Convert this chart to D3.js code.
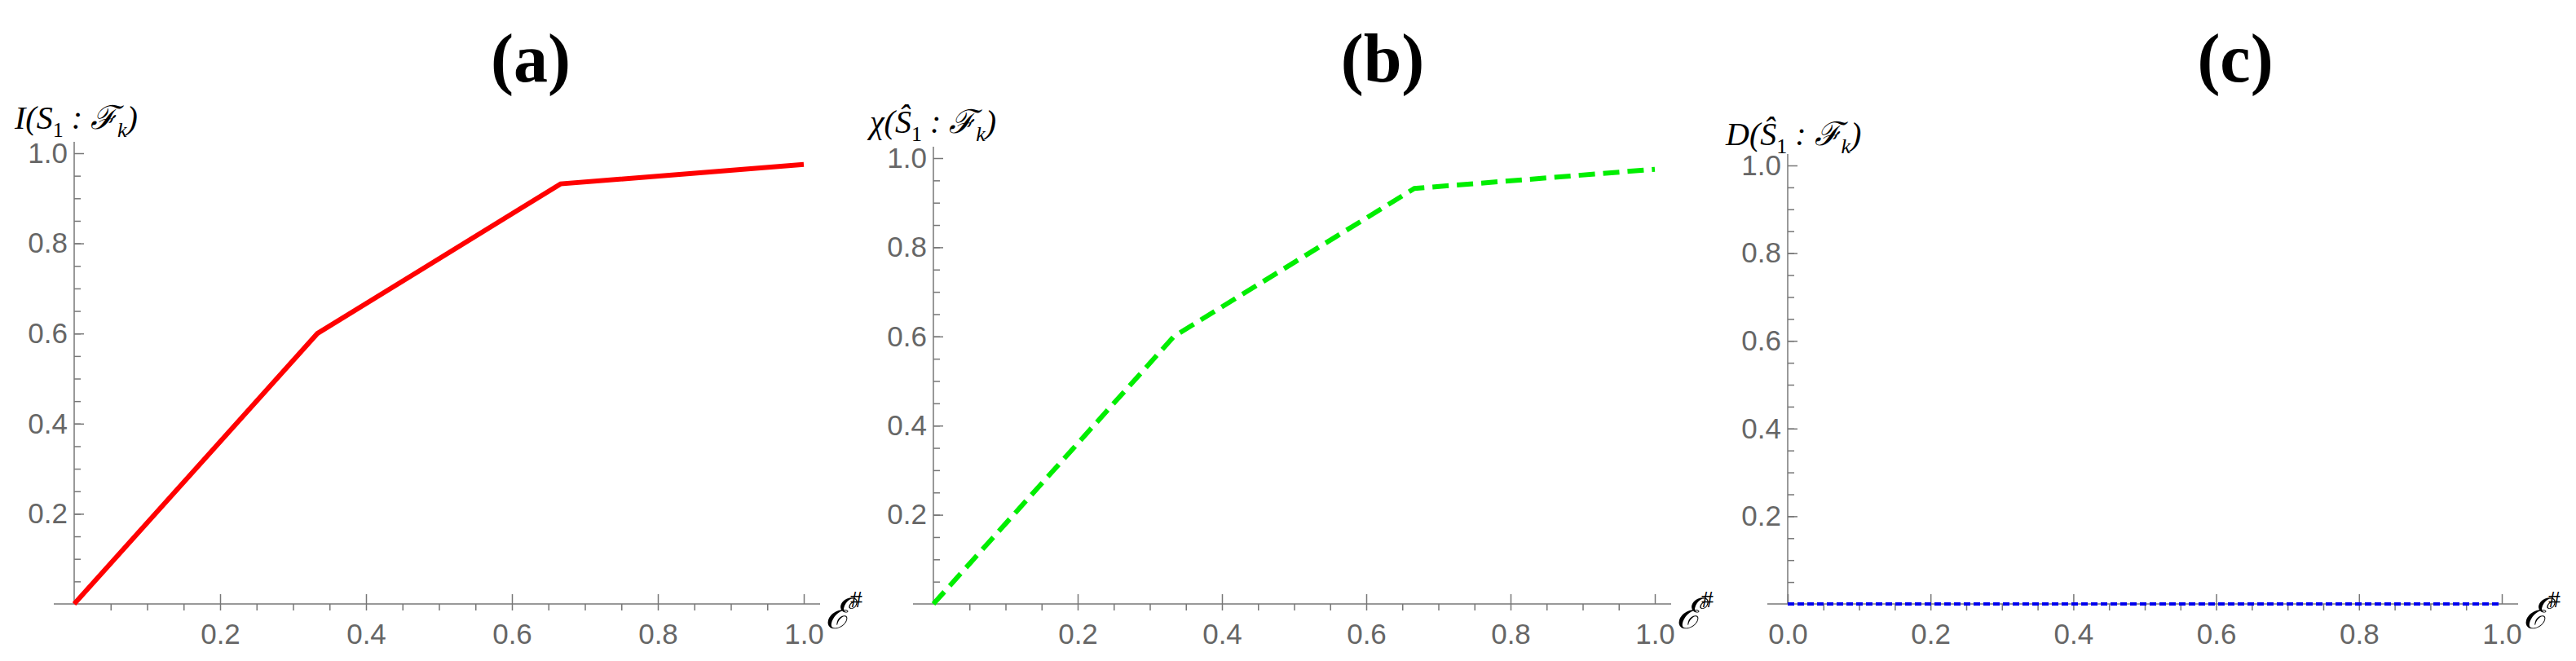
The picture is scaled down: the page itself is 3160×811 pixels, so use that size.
<!DOCTYPE html>
<html><head><meta charset="utf-8">
<script src="https://cdn.jsdelivr.net/npm/d3@7"></script>
<style>
body{margin:0;background:#fff}
.tick text{fill:#666;font-family:"Liberation Sans",Arial,sans-serif;font-size:35px}
.tick line,.domain{stroke:#777;stroke-width:1.5}
.math{font-family:"Liberation Serif","DejaVu Serif",serif;font-style:italic;fill:#000}
.title{font-family:"Liberation Serif",serif;font-weight:bold;font-size:84px;fill:#000}
</style></head>
<body><svg id="chart" width="3160" height="811"></svg>
<script>
// data
const epsValues = [0, 1/3, 2/3, 1];
const mutualInfo = [0, 0.6, 0.932, 0.975];
const holevo = [0, 0.6, 0.932, 0.975];
const discord = [0, 0, 0, 0];
const majorTicks = [0.2, 0.4, 0.6, 0.8, 1.0];
const majorTicksC = [0, 0.2, 0.4, 0.6, 0.8, 1.0];
const minorTicks = d3.range(1, 20).map(i => i * 0.05);

const panels = [
  { id: 'a', data: mutualInfo, color: '#ff0000', dash: null, width: 6,
    left: 91, right: 986, top: 188, xt: majorTicks, fn: 'I', hat: false, titleX: 651, labelX: 18, labelY: 158 },
  { id: 'b', data: holevo, color: '#00ee00', dash: '20,10', width: 6,
    left: 1145, right: 2030, top: 194, xt: majorTicks, fn: 'χ', hat: true, titleX: 1696, labelX: 1067, labelY: 163 },
  { id: 'c', data: discord, color: '#0000ee', dash: '8,4', width: 4,
    left: 2193, right: 3069, top: 203, xt: majorTicksC, fn: 'D', hat: true, titleX: 2742, labelX: 2117, labelY: 178 }
];
const bottom = 741;
const svg = d3.select('#chart');

panels.forEach(p => {
  const x = d3.scaleLinear().domain([0, 1]).range([p.left, p.right]);
  const y = d3.scaleLinear().domain([0, 1]).range([bottom, p.top]);
  const g = svg.append('g');

  // minor ticks
  g.append('g').attr('transform', `translate(0,${bottom})`)
    .call(d3.axisBottom(x).tickValues(minorTicks).tickSize(8).tickFormat(''))
    .call(s => s.select('.domain').remove());
  g.append('g').attr('transform', `translate(${p.left},0)`)
    .call(d3.axisRight(y).tickValues(minorTicks).tickSize(8).tickFormat(''))
    .call(s => s.select('.domain').remove());

  // major ticks, drawn inward, labels outside
  const xa = g.append('g').attr('transform', `translate(0,${bottom})`)
    .call(d3.axisBottom(x).tickValues(p.xt).tickSizeInner(-12).tickSizeOuter(0).tickPadding(24).tickFormat(d3.format('.1f')));
  xa.select('.domain').attr('d', `M${p.left - 25},0H${p.right + 20}`);
  const ya = g.append('g').attr('transform', `translate(${p.left},0)`)
    .call(d3.axisLeft(y).tickValues(majorTicks).tickSizeInner(-12).tickSizeOuter(0).tickPadding(8).tickFormat(d3.format('.1f')));
  ya.select('.domain').attr('d', `M0,${bottom}V${p.top - 14}`);

  // line
  const line = d3.line().x((d, i) => x(epsValues[i])).y(d => y(d));
  g.append('path').datum(p.data).attr('d', line)
    .attr('fill', 'none').attr('stroke', p.color).attr('stroke-width', p.width)
    .attr('stroke-dasharray', p.dash);

  // title
  g.append('text').attr('class', 'title').attr('x', p.titleX).attr('y', 100)
    .attr('text-anchor', 'middle').text(`(${p.id})`);

  // y label
  const t = g.append('text').attr('class', 'math').attr('x', p.labelX).attr('y', p.labelY).attr('font-size', 40);
  t.append('tspan').text(p.fn + '(');
  t.append('tspan').text(p.hat ? 'Ŝ' : 'S');
  t.append('tspan').attr('font-size', 26).attr('dy', 10).attr('font-style', 'normal').text('1');
  t.append('tspan').attr('dy', -10).text(' : ℱ');
  t.append('tspan').attr('font-size', 26).attr('dy', 10).text('k');
  t.append('tspan').attr('dy', -10).text(')');

  // x label
  const xl = g.append('text').attr('class', 'math').attr('x', p.right + 26).attr('y', bottom + 30).attr('font-size', 52);
  xl.append('tspan').text('ℰ');
  xl.append('tspan').attr('font-size', 30).attr('dy', -26).attr('font-style', 'normal').text('#');
});
</script></body></html>
